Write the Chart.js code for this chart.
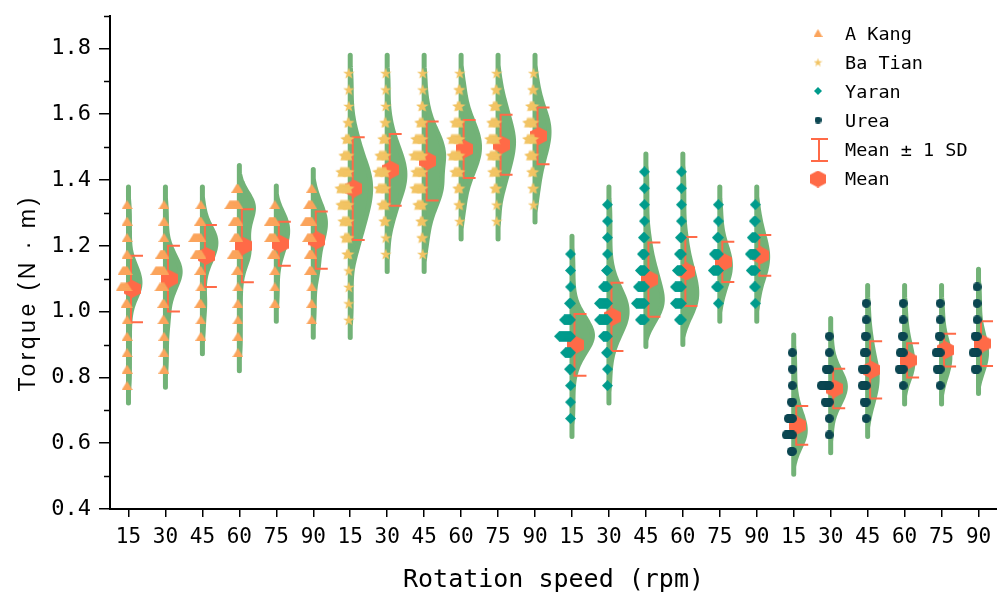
<!DOCTYPE html>
<html>
<head>
<meta charset="utf-8">
<script src="https://cdn.jsdelivr.net/npm/chart.js@4.4.1/dist/chart.umd.min.js"></script>
<style>
  html, body { margin: 0; padding: 0; background: #fff; }
  #wrap { width: 997px; height: 599px; }
</style>
</head>
<body>
<div id="wrap"><canvas id="chart"></canvas></div>
<script>
const speeds = ['15', '30', '45', '60', '75', '90'];
const materials = ['A Kang', 'Ba Tian', 'Yaran', 'Urea'];
const yTicks = [0.4, 0.6, 0.8, 1.0, 1.2, 1.4, 1.6, 1.8];
const yMinorTicks = [0.5, 0.7, 0.9, 1.1, 1.3, 1.5, 1.7, 1.9];

// observed torque levels for each speed, as [torque, number of readings]
const aKangObs = [
  [[1.325,1],[1.275,1],[1.225,1],[1.175,1],[1.125,5],[1.075,7],[1.025,2],[0.975,1],[0.925,1],[0.875,1],[0.825,1],[0.775,1]],
  [[1.325,1],[1.275,1],[1.225,1],[1.175,4],[1.125,9],[1.075,5],[1.025,2],[0.975,2],[0.925,1],[0.875,1],[0.825,1]],
  [[1.325,1],[1.275,2],[1.225,8],[1.175,6],[1.125,2],[1.075,1],[1.025,2],[0.975,1],[0.925,1]],
  [[1.375,2],[1.325,9],[1.275,5],[1.225,4],[1.175,6],[1.125,2],[1.075,1],[1.025,1],[0.975,1],[0.925,1],[0.875,1]],
  [[1.325,1],[1.275,6],[1.225,6],[1.175,3],[1.125,1],[1.075,1],[1.025,1]],
  [[1.375,1],[1.325,4],[1.275,7],[1.225,5],[1.175,3],[1.125,3],[1.075,1],[1.025,1],[0.975,1]]
];
const baTianObs = [
  [[1.725,1],[1.675,1],[1.625,1],[1.575,2],[1.525,4],[1.475,6],[1.425,9],[1.375,10],[1.325,9],[1.275,7],[1.225,5],[1.175,3],[1.125,1],[1.075,1],[1.025,1],[0.975,1]],
  [[1.725,1],[1.675,1],[1.625,1],[1.575,2],[1.525,4],[1.475,7],[1.425,9],[1.375,8],[1.325,5],[1.275,3],[1.225,1],[1.175,1]],
  [[1.725,1],[1.675,1],[1.625,2],[1.575,4],[1.525,8],[1.475,10],[1.425,8],[1.375,9],[1.325,6],[1.275,3],[1.225,2],[1.175,1]],
  [[1.725,1],[1.675,2],[1.625,3],[1.575,6],[1.525,9],[1.475,9],[1.425,6],[1.375,3],[1.325,2],[1.275,1]],
  [[1.725,1],[1.675,2],[1.625,4],[1.575,6],[1.525,8],[1.475,7],[1.425,5],[1.375,3],[1.325,1],[1.275,1]],
  [[1.725,1],[1.675,2],[1.625,4],[1.575,7],[1.525,7],[1.475,5],[1.425,3],[1.375,2],[1.325,1]]
];
const yaranObs = [
  [[1.175,1],[1.125,1],[1.075,1],[1.025,2],[0.975,7],[0.925,12],[0.875,6],[0.825,2],[0.775,1],[0.725,1],[0.675,1]],
  [[1.325,1],[1.275,1],[1.225,1],[1.175,1],[1.125,2],[1.075,5],[1.025,9],[0.975,9],[0.925,5],[0.875,2],[0.825,1],[0.775,1]],
  [[1.425,1],[1.375,1],[1.325,1],[1.275,1],[1.225,2],[1.175,3],[1.125,5],[1.075,7],[1.025,9],[0.975,5]],
  [[1.425,1],[1.375,1],[1.325,1],[1.275,1],[1.225,2],[1.175,3],[1.125,5],[1.075,7],[1.025,7],[0.975,3]],
  [[1.325,1],[1.275,1],[1.225,2],[1.175,5],[1.125,6],[1.075,3],[1.025,1]],
  [[1.325,1],[1.275,2],[1.225,4],[1.175,6],[1.125,5],[1.075,2],[1.025,1]]
];
const ureaObs = [
  [[0.875,1],[0.825,1],[0.775,1],[0.725,2],[0.675,5],[0.625,7],[0.575,2]],
  [[0.925,1],[0.875,1],[0.825,4],[0.775,9],[0.725,5],[0.675,1],[0.625,1]],
  [[1.025,1],[0.975,1],[0.925,2],[0.875,3],[0.825,5],[0.775,5],[0.725,3],[0.675,1]],
  [[1.025,1],[0.975,1],[0.925,2],[0.875,4],[0.825,5],[0.775,1]],
  [[1.025,1],[0.975,1],[0.925,2],[0.875,5],[0.825,4],[0.775,1]],
  [[1.075,1],[1.025,1],[0.975,1],[0.925,3],[0.875,5],[0.825,3]]
];

const aKangMean = [1.069, 1.100, 1.169, 1.200, 1.206, 1.217];
const aKangSD   = [0.101, 0.100, 0.094, 0.111, 0.067, 0.087];
const baTianMean = [1.374, 1.431, 1.458, 1.494, 1.507, 1.534];
const baTianSD   = [0.156, 0.109, 0.120, 0.088, 0.091, 0.086];
const yaranMean = [0.899, 0.984, 1.097, 1.122, 1.151, 1.171];
const yaranSD   = [0.094, 0.104, 0.113, 0.105, 0.061, 0.062];
const ureaMean = [0.654, 0.766, 0.823, 0.852, 0.883, 0.903];
const ureaSD   = [0.059, 0.060, 0.087, 0.052, 0.050, 0.068];

const obsByMaterial = [aKangObs, baTianObs, yaranObs, ureaObs];
const meanByMaterial = [aKangMean, baTianMean, yaranMean, ureaMean];
const sdByMaterial = [aKangSD, baTianSD, yaranSD, ureaSD];

// look
const markerColors = ['#FBA45C', '#F2C464', '#009B8C', '#0B4651'];
const violinColor = '#72B277';
const meanColor = '#FF6A47';
const monoFont = '"DejaVu Sans Mono", "Noto Sans CJK SC", monospace';
const bandwidth = 0.035;
const kdeCut = 0.3;
const kdeBase = 1.0;
const pxPerDensity = 1.3;
const spreadPx = 1.0;
// plot frame inside the 997 x 599 canvas
const frame = { left: 110, right: 997, top: 15.5, bottom: 509 };

function makeMarker(shape, w, h, color) {
  const c = document.createElement('canvas');
  c.width = w; c.height = h;
  const g = c.getContext('2d');
  g.fillStyle = color;
  g.beginPath();
  const cx = w / 2, cy = h / 2;
  if (shape === 'triangle') {
    g.moveTo(cx, 0); g.lineTo(w, h); g.lineTo(0, h);
  } else if (shape === 'star') {
    for (let i = 0; i < 10; i++) {
      const r = i % 2 ? w * 0.2 : w / 2;
      const a = -Math.PI / 2 + i * Math.PI / 5;
      g.lineTo(cx + r * Math.cos(a), cy + 0.6 + r * Math.sin(a));
    }
  } else if (shape === 'diamond') {
    g.moveTo(cx, 0); g.lineTo(w, cy); g.lineTo(cx, h); g.lineTo(0, cy);
  } else if (shape === 'circle') {
    g.arc(cx, cy, w / 2, 0, Math.PI * 2);
  } else if (shape === 'hexagon') {
    for (let i = 0; i < 6; i++) {
      const a = -Math.PI / 2 + i * Math.PI / 3;
      g.lineTo(cx + (w / 2) * Math.cos(a) / 0.866, cy + (h / 2) * Math.sin(a));
    }
  }
  g.closePath();
  g.fill();
  return c;
}

const pointImgs = [
  makeMarker('triangle', 11, 9, markerColors[0]),
  makeMarker('star', 12, 12, markerColors[1]),
  makeMarker('diamond', 11, 11, markerColors[2]),
  makeMarker('circle', 9, 9, markerColors[3])
];
const legendImgs = [
  makeMarker('triangle', 9, 8, markerColors[0]),
  makeMarker('star', 9, 9, markerColors[1]),
  makeMarker('diamond', 8, 8, markerColors[2]),
  makeMarker('circle', 7, 7, markerColors[3])
];
const meanImg = makeMarker('hexagon', 17, 18, meanColor);
const legendMeanImg = makeMarker('hexagon', 16, 17, meanColor);

const spreadStep = spreadPx / ((frame.right - frame.left) / 24);

function kde(obs, v) {
  let s = 0;
  for (const [t, c] of obs) {
    const z = (v - t) / bandwidth;
    s += c * Math.exp(-0.5 * z * z);
  }
  return s;
}

const pointDatasets = materials.map((name, m) => {
  const data = [];
  obsByMaterial[m].forEach((obs, s) => {
    const g = m * 6 + s;
    obs.forEach(([v, c]) => {
      for (let k = 0; k < c; k++) data.push({ x: g - 0.04 - k * spreadStep, y: v });
    });
  });
  return { label: name, data, pointStyle: pointImgs[m], pointRadius: 5, order: 1 };
});

const meanData = [];
meanByMaterial.forEach((means, m) => means.forEach((v, s) => meanData.push({ x: m * 6 + s + 0.1, y: v })));

const violinPlugin = {
  id: 'violins',
  afterLayout(chart) {
    // pin the plot frame so the axes line up with the original figure
    const x = chart.scales.x, y = chart.scales.y;
    x.left = frame.left; x.right = frame.right; x.width = frame.right - frame.left;
    x.top = frame.bottom; x.bottom = 599; x.height = 599 - frame.bottom;
    y.left = 0; y.right = frame.left; y.width = frame.left;
    y.top = frame.top; y.bottom = frame.bottom; y.height = frame.bottom - frame.top;
    chart.chartArea = {
      left: frame.left, right: frame.right, top: frame.top, bottom: frame.bottom,
      width: frame.right - frame.left, height: frame.bottom - frame.top
    };
    x.configure();
    y.configure();
  },
  beforeDatasetDraw(chart, args) {
    if (args.index !== materials.length) return;
    const { ctx } = chart;
    const x = chart.scales.x, y = chart.scales.y;
    ctx.save();
    obsByMaterial.forEach((groups, m) => groups.forEach((obs, s) => {
      const g = m * 6 + s;
      const cx = x.getPixelForValue(g);
      const vals = obs.map(o => o[0]);
      const hi = Math.max(...vals) + 0.12, lo = Math.min(...vals) - 0.12;
      const pts = [];
      for (let v = hi; v >= lo; v -= 0.003) {
        const d = kde(obs, v);
        if (d >= kdeCut) pts.push([v, Math.max(0, d - kdeBase)]);
      }
      ctx.beginPath();
      ctx.moveTo(cx, y.getPixelForValue(pts[0][0]));
      pts.forEach(([v, d]) => ctx.lineTo(cx + d * pxPerDensity, y.getPixelForValue(v)));
      ctx.lineTo(cx, y.getPixelForValue(pts[pts.length - 1][0]));
      ctx.closePath();
      ctx.fillStyle = violinColor;
      ctx.strokeStyle = violinColor;
      ctx.lineWidth = 5;
      ctx.lineJoin = 'round';
      ctx.lineCap = 'round';
      ctx.fill();
      ctx.stroke();
    }));
    // mean +- 1 SD
    ctx.strokeStyle = meanColor;
    ctx.lineWidth = 2;
    ctx.lineCap = 'butt';
    meanByMaterial.forEach((means, m) => means.forEach((mu, s) => {
      const g = m * 6 + s;
      const x0 = x.getPixelForValue(g) + 2.5;
      const yt = y.getPixelForValue(mu + sdByMaterial[m][s]);
      const yb = y.getPixelForValue(mu - sdByMaterial[m][s]);
      ctx.beginPath();
      ctx.moveTo(x0, yt); ctx.lineTo(x0, yb);
      ctx.moveTo(x0 - 1, yt); ctx.lineTo(x0 + 12, yt);
      ctx.moveTo(x0 - 1, yb); ctx.lineTo(x0 + 12, yb);
      ctx.stroke();
    }));
    ctx.restore();
  },
  afterDraw(chart) {
    const { ctx } = chart;
    const y = chart.scales.y;
    const area = chart.chartArea;
    const left = area.left;
    ctx.save();
    // minor ticks
    ctx.strokeStyle = '#000';
    ctx.lineWidth = 1.5;
    yMinorTicks.forEach(v => {
      const py = Math.round(y.getPixelForValue(v)) + 0.5;
      ctx.beginPath(); ctx.moveTo(left - 6, py); ctx.lineTo(left, py); ctx.stroke();
    });
    // y axis title
    ctx.save();
    ctx.translate(35, 293);
    ctx.rotate(-Math.PI / 2);
    ctx.font = '23px "Liberation Sans", Arial, sans-serif';
    ctx.letterSpacing = '3.5px';
    ctx.fillStyle = '#000';
    ctx.textAlign = 'center';
    ctx.textBaseline = 'alphabetic';
    ctx.fillText('Torque (N · m)', 0, 0);
    ctx.restore();
    // legend
    const labels = [...materials, 'Mean ± 1 SD', 'Mean'];
    ctx.font = '18.5px ' + monoFont;
    ctx.fillStyle = '#000';
    ctx.textBaseline = 'middle';
    labels.forEach((t, i) => {
      const ry = 35 + i * 29;
      if (i < 4) {
        const im = legendImgs[i];
        ctx.drawImage(im, 818 - im.width / 2, ry - 2 - im.height / 2);
      } else if (i === 4) {
        ctx.strokeStyle = meanColor; ctx.lineWidth = 2;
        ctx.beginPath();
        ctx.moveTo(819, ry - 12); ctx.lineTo(819, ry + 10);
        ctx.moveTo(811, ry - 12); ctx.lineTo(828, ry - 12);
        ctx.moveTo(811, ry + 10); ctx.lineTo(828, ry + 10);
        ctx.stroke();
      } else {
        ctx.drawImage(legendMeanImg, 818 - legendMeanImg.width / 2, ry - 1 - legendMeanImg.height / 2);
      }
      ctx.fillStyle = '#000';
      ctx.fillText(t, 845, ry);
    });
    ctx.restore();
  }
};

new Chart(document.getElementById('chart'), {
  type: 'scatter',
  data: {
    datasets: [
      ...pointDatasets,
      { label: 'Mean', data: meanData, pointStyle: meanImg, pointRadius: 8, order: 2 }
    ]
  },
  options: {
    responsive: true,
    maintainAspectRatio: false,
    animation: false,
    layout: { padding: { top: 15, right: 0, bottom: 0, left: 0 } },
    plugins: { legend: { display: false }, tooltip: { enabled: false } },
    scales: {
      x: {
        type: 'linear',
        min: -0.5,
        max: 23.5,
        afterBuildTicks: s => { s.ticks = materials.flatMap((_, m) => speeds.map((_, i) => ({ value: m * 6 + i }))); },
        afterFit: s => { s.height = 90; },
        ticks: {
          callback: v => speeds[Math.round(v) % 6],
          color: '#000',
          font: { family: '"DejaVu Sans Mono", monospace', size: 21 },
          padding: 8,
          maxRotation: 0,
          autoSkip: false
        },
        grid: { drawOnChartArea: false, drawTicks: true, tickLength: 8, color: '#000', lineWidth: 1.5 },
        border: { color: '#000', width: 2 },
        title: { display: true, text: 'Rotation speed (rpm)', color: '#000', font: { family: monoFont, size: 25 }, padding: { top: 0, bottom: 4 } }
      },
      y: {
        min: 0.4,
        max: 1.9,
        afterBuildTicks: s => { s.ticks = yTicks.map(v => ({ value: v })); },
        afterFit: s => { s.width = 110; },
        ticks: {
          callback: v => v.toFixed(1),
          color: '#000',
          font: { family: monoFont, size: 22 },
          padding: 8
        },
        grid: { drawOnChartArea: false, drawTicks: true, tickLength: 11, color: '#000', lineWidth: 1.5 },
        border: { color: '#000', width: 2 }
      }
    }
  },
  plugins: [violinPlugin]
});
</script>
</body>
</html>
